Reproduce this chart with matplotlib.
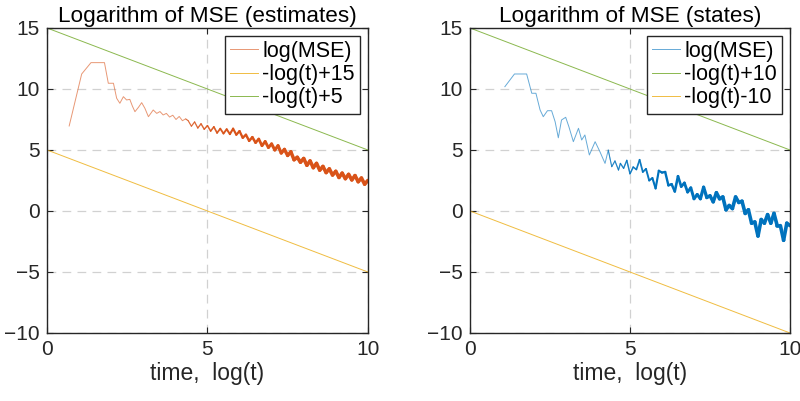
import numpy as np
import matplotlib
matplotlib.use('Agg')
import matplotlib.pyplot as plt
from matplotlib.collections import LineCollection

plt.rcParams['font.family'] = ['Liberation Sans', 'DejaVu Sans']

# MATLAB default line colours
ORANGE = (0.850, 0.325, 0.098)
BLUE = (0.000, 0.447, 0.741)
YELLOW = (0.929, 0.694, 0.125)
GREEN = (0.466, 0.674, 0.188)
AXC = (0.15, 0.15, 0.15)

# ---- data ----
ref_x = [0, 10]

# left panel: estimates
est_x = [0.69, 1.08, 1.37, 1.79, 1.91, 2.07, 2.17, 2.27, 2.38, 2.48, 2.58, 2.66,
         2.74, 2.85, 2.95, 3.05, 3.16, 3.31, 3.42, 3.52, 3.62, 3.72, 3.82, 3.92,
         4.02, 4.12, 4.22, 4.32,
         4.4, 4.5, 4.6, 4.7, 4.8, 4.9, 5.0, 5.1, 5.2, 5.3, 5.4, 5.5, 5.6, 5.7,
         5.8, 5.9, 6.0, 6.1, 6.2, 6.3, 6.4, 6.5, 6.6, 6.7, 6.8, 6.9, 7.0, 7.1,
         7.2, 7.3, 7.4, 7.5, 7.6, 7.7, 7.8, 7.9, 8.0, 8.1, 8.2, 8.3, 8.4, 8.5,
         8.6, 8.7, 8.8, 8.9, 9.0, 9.1, 9.2, 9.3, 9.4, 9.5, 9.6, 9.7, 9.8, 9.9, 10.0]
est_y = [6.97, 11.23, 12.16, 12.16, 10.47, 10.47, 9.24, 8.83, 9.37, 9.10, 9.15, 8.60,
         8.14, 8.50, 8.88, 8.42, 7.73, 8.28, 8.00, 8.15, 7.87, 8.00, 7.70, 7.85,
         7.50, 7.75, 7.40, 7.55,
         7.40, 6.95, 7.30, 6.80, 7.15, 6.70, 7.00, 6.55, 6.90, 6.40, 6.75, 6.35,
         6.70, 6.30, 6.75, 6.25, 6.55, 6.00, 6.25, 5.75, 6.05, 5.60, 5.90, 5.35,
         5.70, 5.20, 5.50, 5.00, 5.35, 4.75, 5.05, 4.55, 4.85, 4.20, 4.40, 4.00,
         4.30, 3.75, 4.10, 3.55, 3.90, 3.35, 3.65, 3.15, 3.45, 2.95, 3.25, 2.75,
         3.10, 2.65, 3.00, 2.55, 2.90, 2.40, 2.70, 2.20, 2.50]
est_upper = [15, 5]
est_lower = [5, -5]

# right panel: states
state_x = [1.09, 1.39, 1.77, 1.93, 2.06, 2.19, 2.29, 2.42, 2.55, 2.66, 2.76, 2.86,
           2.99, 3.09, 3.23, 3.39, 3.49, 3.59, 3.73, 3.91, 4.06, 4.22, 4.32, 4.43,
           4.53, 4.64,
           4.7, 4.8, 4.9, 5.0, 5.1, 5.2, 5.3, 5.4, 5.5, 5.6, 5.7, 5.8, 5.9, 6.0,
           6.1, 6.2, 6.3, 6.4, 6.5, 6.6, 6.7, 6.8, 6.9, 7.0, 7.1, 7.2, 7.3, 7.4,
           7.5, 7.6, 7.7, 7.8, 7.9, 8.0, 8.1, 8.2, 8.3, 8.4, 8.5, 8.6, 8.7, 8.8,
           8.9, 9.0, 9.1, 9.2, 9.3, 9.4, 9.5, 9.6, 9.7, 9.8, 9.9, 10.0]
state_y = [10.19, 11.23, 11.23, 9.65, 9.65, 8.28, 7.73, 8.22, 8.22, 7.32, 6.00, 7.46,
           7.68, 6.91, 5.68, 6.78, 5.82, 6.23, 4.59, 5.68, 4.86, 3.90, 5.00, 3.63,
           4.10, 3.36,
           3.90, 3.50, 4.15, 3.05, 3.60, 3.40, 4.20, 3.20, 3.45, 2.50, 2.70, 1.85,
           3.30, 3.15, 3.20, 2.10, 2.20, 1.60, 2.85, 2.00, 2.30, 1.55, 1.90, 1.00,
           1.35, 1.00, 1.95, 1.10, 1.25, 0.75, 1.50, 1.00, 1.15, 0.10, 0.45, 0.20,
           1.15, 0.70, 0.80, -0.20, 0.10, -1.00, -0.90, -2.05, -0.70, -1.00, -0.30,
           -1.00, -0.20, -1.20, -1.20, -2.40, -1.00, -1.20]
state_upper = [15, 5]
state_lower = [0, -10]


def mse_line(ax, x, y, color, label):
    x = np.asarray(x)
    y = np.asarray(y)
    ax.plot(x, y, color=color, lw=0.7, alpha=0.6, label=label)
    # dense samples at large log(t) render as a thicker band in the original
    pts = np.column_stack([x, y]).reshape(-1, 1, 2)
    segs = np.concatenate([pts[:-1], pts[1:]], axis=1)
    mid = 0.5 * (x[:-1] + x[1:])
    keep = mid > 4.3
    widths = 0.7 + 1.9 * np.clip((mid[keep] - 4.3) / 3.5, 0, 1)
    alphas = 0.6 + 0.4 * np.clip((mid[keep] - 4.3) / 1.5, 0, 1)
    cols = [(*color, a) for a in alphas]
    lc = LineCollection(segs[keep], colors=cols, linewidths=widths,
                        capstyle='round', joinstyle='round')
    ax.add_collection(lc)


def style_axes(ax, title):
    ax.set_xlim(0, 10)
    ax.set_ylim(-10, 15)
    ax.set_xticks([0, 5, 10])
    ax.set_yticks([-10, -5, 0, 5, 10, 15])
    ax.grid(True, color=(0.82, 0.82, 0.82), linestyle=(0, (7, 5)), linewidth=0.9)
    ax.tick_params(direction='in', length=4, width=0.8, colors=AXC,
                   labelsize=15, top=True, right=True, pad=5)
    for sp in ax.spines.values():
        sp.set_color(AXC)
        sp.set_linewidth(1.0)
    ax.set_title(title, fontsize=16.2, color='black', pad=4)
    ax.set_xlabel('time,  log(t)', fontsize=16.5, color=AXC, labelpad=2)
    leg = ax.legend(loc='upper right', fontsize=15.5, handlelength=1.3,
                    handletextpad=0.2, borderpad=0.25, labelspacing=0.1,
                    fancybox=False, framealpha=1, borderaxespad=0.35)
    leg.get_frame().set_edgecolor(AXC)
    leg.get_frame().set_linewidth(1.0)


fig = plt.figure(figsize=(8, 4.01), dpi=100)
ax1 = fig.add_axes([0.0588, 0.1696, 0.401, 0.7606])
ax2 = fig.add_axes([0.5875, 0.1696, 0.40, 0.7606])

mse_line(ax1, est_x, est_y, ORANGE, 'log(MSE)')
ax1.plot(ref_x, est_lower, color=YELLOW, lw=0.7, alpha=0.85, label='-log(t)+15')
ax1.plot(ref_x, est_upper, color=GREEN, lw=0.7, alpha=0.85, label='-log(t)+5')
style_axes(ax1, 'Logarithm of MSE (estimates)')

mse_line(ax2, state_x, state_y, BLUE, 'log(MSE)')
ax2.plot(ref_x, state_upper, color=GREEN, lw=0.7, alpha=0.85, label='-log(t)+10')
ax2.plot(ref_x, state_lower, color=YELLOW, lw=0.7, alpha=0.85, label='-log(t)-10')
style_axes(ax2, 'Logarithm of MSE (states)')

fig.savefig('out.png', dpi=100)
